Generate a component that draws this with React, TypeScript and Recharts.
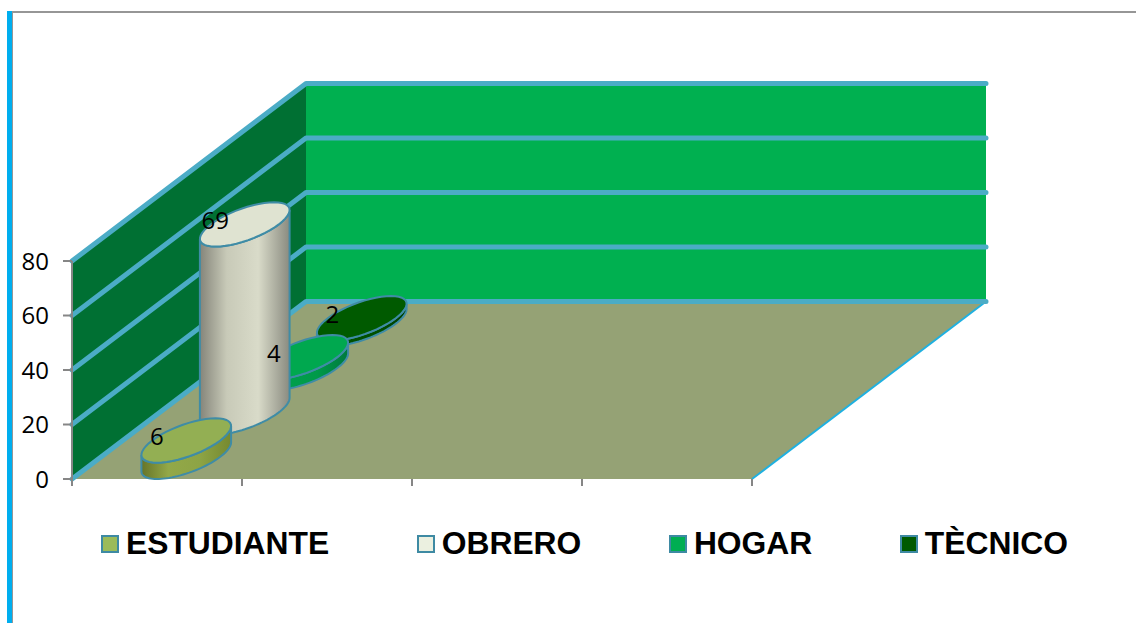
import React from "react";
import { BarChart, Bar, XAxis, YAxis, ReferenceArea, Legend } from "recharts";

const categories = ["c1", "c2", "c3", "c4"];
const seriesNames = ["ESTUDIANTE", "OBRERO", "HOGAR", "TÈCNICO"];
const estudiante = [6, null, null, null];
const obrero = [69, null, null, null];
const hogar = [4, null, null, null];
const tecnico = [2, null, null, null];
const yTicks = [0, 20, 40, 60, 80];

const seriesValues = [estudiante, obrero, hogar, tecnico];
const data = categories.map((c, i) => {
  const row: Record<string, any> = { category: c };
  seriesNames.forEach((n, s) => (row[n] = seriesValues[s][i]));
  return row;
});

const topColors = ["#93AF53", "#DFE3D1", "#00A84F", "#005A00"];
const legendColors = ["#9BBB59", "#EBF0E0", "#00AE52", "#005A00"];
const sideStops = [
  ["#667428", "#93A848", "#8DA445", "#76892F"],
  ["#85857A", "#C8CAB8", "#D9DBC9", "#8A8B80"],
  ["#00713A", "#00A04C", "#009A49", "#007A3D"],
  ["#003F00", "#005000", "#005000", "#004000"],
];

const W = 1136;
const H = 623;
const DEPTH_X = 234;
const DEPTH_Y = 177.5;
const SERIES_DX = DEPTH_X / 4;
const SERIES_DY = DEPTH_Y / 4;
const EDGE = "#3F8CA6";
const GRID = "#4BACC6";
const AXIS = "#868686";
const TEXT_FONT = "'Open Sans', sans-serif";

function ellipsePoints(cx: number, cy: number, hw: number, from: number, to: number) {
  const u = SERIES_DX / 2;
  const v = -SERIES_DY / 2;
  const pts: string[] = [];
  const steps = 48;
  for (let k = 0; k <= steps; k++) {
    const t = from + ((to - from) * k) / steps;
    pts.push(`${(cx + hw * Math.cos(t) + u * Math.sin(t)).toFixed(2)} ${(cy + v * Math.sin(t)).toFixed(2)}`);
  }
  return pts;
}

function Cylinder(props: any, s: number) {
  const name = seriesNames[s];
  if (props.payload?.[name] == null) return <g />;
  const { x, y, width, height } = props;
  const hw = width / 2;
  const depth = s + 0.5;
  const cx = x + hw + depth * SERIES_DX;
  const topY = y - depth * SERIES_DY;
  const baseY = y + height - depth * SERIES_DY;
  const t0 = Math.atan2(SERIES_DX / 2, hw);
  const base = ellipsePoints(cx, baseY, hw, t0 + Math.PI, t0 + 2 * Math.PI);
  const top = ellipsePoints(cx, topY, hw, t0 + 2 * Math.PI, t0 + Math.PI);
  const full = ellipsePoints(cx, topY, hw, 0, 2 * Math.PI);
  const id = `side${s}`;
  return (
    <g>
      <defs>
        <linearGradient id={id} x1="0" x2="1" y1="0" y2="0">
          <stop offset="0" stopColor={sideStops[s][0]} />
          <stop offset="0.3" stopColor={sideStops[s][1]} />
          <stop offset="0.65" stopColor={sideStops[s][2]} />
          <stop offset="1" stopColor={sideStops[s][3]} />
        </linearGradient>
      </defs>
      <path
        d={`M${base.join(" L")} L${top.join(" L")} Z`}
        fill={`url(#${id})`}
        stroke={EDGE}
        strokeWidth={2}
      />
      <path d={`M${full.join(" L")} Z`} fill={topColors[s]} stroke={EDGE} strokeWidth={2} />
    </g>
  );
}

function ValueLabel(props: any, s: number) {
  const name = seriesNames[s];
  const value = props.payload?.[name];
  if (value == null) return <g />;
  const { x, y, width } = props;
  const depth = s + 0.5;
  return (
    <text
      x={x + width / 2 + depth * SERIES_DX - 29.5}
      y={y - depth * SERIES_DY - 5}
      textAnchor="middle"
      dominantBaseline="central"
      fontFamily={TEXT_FONT}
      fontSize={24}
      fill="#000"
    >
      {value}
    </text>
  );
}

function Room(props: any) {
  const { x, y, width, height } = props;
  const bottom = y + height;
  const right = x + width;
  const maxTick = yTicks[yTicks.length - 1];
  const ty = (t: number) => bottom - (height * t) / maxTick;
  const bx = x + DEPTH_X;
  const bRight = right + DEPTH_X;
  return (
    <g>
      <polygon
        points={`${x},${bottom} ${bx},${bottom - DEPTH_Y} ${bx},${y - DEPTH_Y} ${x},${y}`}
        fill="#007033"
      />
      <polygon
        points={`${bx},${bottom - DEPTH_Y} ${bRight},${bottom - DEPTH_Y} ${bRight},${y - DEPTH_Y} ${bx},${y - DEPTH_Y}`}
        fill="#00B050"
      />
      <polygon
        points={`${x},${bottom} ${right},${bottom} ${bRight},${bottom - DEPTH_Y} ${bx},${bottom - DEPTH_Y}`}
        fill="#95A275"
      />
      <line x1={right} y1={bottom} x2={bRight} y2={bottom - DEPTH_Y} stroke="#1FB0E0" strokeWidth={2} />
      {yTicks.map((t) => (
        <polyline
          key={t}
          points={`${x},${ty(t)} ${bx},${ty(t) - DEPTH_Y} ${bRight},${ty(t) - DEPTH_Y}`}
          fill="none"
          stroke={GRID}
          strokeWidth={5}
          strokeLinecap="round"
          strokeLinejoin="round"
        />
      ))}
      {[0, 1, 2, 3, 4].map((i) => (
        <line
          key={i}
          x1={x + (width * i) / 4}
          x2={x + (width * i) / 4}
          y1={bottom}
          y2={bottom + 7}
          stroke={AXIS}
          strokeWidth={2}
        />
      ))}
    </g>
  );
}

function LegendRow() {
  return (
    <div style={{ display: "flex", alignItems: "center", gap: 87.6, whiteSpace: "nowrap" }}>
      {seriesNames.map((n, s) => (
        <div key={n} style={{ display: "flex", alignItems: "center" }}>
          <span
            style={{
              boxSizing: "border-box",
              width: 18,
              height: 18,
              marginRight: 7,
              marginTop: 2,
              background: legendColors[s],
              border: `2px solid #3E8AA3`,
            }}
          />
          <span
            style={{
              fontFamily: "'Liberation Sans', Arial, sans-serif",
              fontWeight: 700,
              fontSize: 31.8,
              lineHeight: "36px",
              color: "#000",
            }}
          >
            {n}
          </span>
        </div>
      ))}
    </div>
  );
}

const drawOrder = [3, 2, 1, 0];

export default function App() {
  return (
    <div style={{ position: "fixed", left: 0, top: 0, width: W, height: H, overflow: "hidden", background: "#fff" }}>
      <div style={{ position: "absolute", left: 7, top: 11, right: 0, height: 2, background: "#969696" }} />
      <div style={{ position: "absolute", left: 7, top: 11, bottom: 0, width: 5, background: "#00AEEF" }} />
      <div style={{ position: "absolute", left: 12, top: 11, bottom: 0, width: 1, background: "#969696" }} />
      <div style={{ position: "absolute", left: 0, top: 0 }}>
        <BarChart
          width={W}
          height={H}
          data={data}
          margin={{ top: 261, right: 384, bottom: 144, left: 0 }}
          barSize={68}
          barGap={-68}
          barCategoryGap={0}
        >
          <ReferenceArea y1={0} y2={80} shape={Room} ifOverflow="visible" />
          <XAxis
            dataKey="category"
            tick={false}
            tickLine={false}
            height={0}
            axisLine={{ stroke: AXIS, strokeWidth: 2 }}
          />
          <YAxis
            width={72}
            domain={[0, 80]}
            ticks={yTicks}
            interval={0}
            tickSize={9}
            tickMargin={14}
            tickLine={{ stroke: AXIS, strokeWidth: 2 }}
            axisLine={{ stroke: AXIS, strokeWidth: 2 }}
            tick={{ fontFamily: TEXT_FONT, fontSize: 24, fill: "#000" }}
          />
          {drawOrder.map((s) => (
            <Bar
              key={seriesNames[s]}
              dataKey={seriesNames[s]}
              isAnimationActive={false}
              shape={(p: any) => Cylinder(p, s)}
              fill={legendColors[s]}
            />
          ))}
          {drawOrder.map((s) => (
            <Bar
              key={`${seriesNames[s]}-label`}
              dataKey={seriesNames[s]}
              isAnimationActive={false}
              legendType="none"
              shape={(p: any) => ValueLabel(p, s)}
            />
          ))}
          <Legend
            layout="horizontal"
            verticalAlign="middle"
            align="center"
            wrapperStyle={{ left: 101, top: 525, width: 1000, bottom: "auto", right: "auto" }}
            content={<LegendRow />}
          />
        </BarChart>
      </div>
    </div>
  );
}
